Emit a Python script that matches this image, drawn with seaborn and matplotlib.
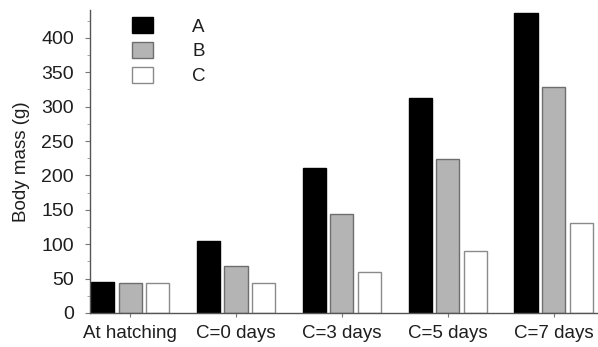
import matplotlib
matplotlib.use("Agg")
import matplotlib.pyplot as plt
from matplotlib.ticker import MultipleLocator
import seaborn as sns
import pandas as pd

# Body mass per group at each sampling point
categories = ["At hatching", "C=0 days", "C=3 days", "C=5 days", "C=7 days"]
groups = ["A", "B", "C"]
mass_a = [45, 105, 211, 312, 436]
mass_b = [44, 68, 144, 224, 329]
mass_c = [43, 43, 60, 90, 131]

df = pd.DataFrame({
    "stage": categories * 3,
    "group": ["A"] * 5 + ["B"] * 5 + ["C"] * 5,
    "mass": mass_a + mass_b + mass_c,
})

sns.set_theme(style="ticks")
plt.rcParams["font.family"] = ["Liberation Sans", "DejaVu Sans"]
txt = "#1e1e1e"

fig = plt.figure(figsize=(5.98, 3.47), dpi=100)
ax = fig.add_axes([0.1505, 0.098, 0.8495, 0.872])

fills = {"A": "#000000", "B": "#b4b4b4", "C": "#ffffff"}
edges = {"A": "#000000", "B": "#6e6e6e", "C": "#8a8a8a"}

sns.barplot(data=df, x="stage", y="mass", hue="group", order=categories,
            hue_order=groups, palette=fills, width=0.78, gap=0.16,
            saturation=1, ax=ax, legend=False)

for cont, g in zip(ax.containers, groups):
    for bar in cont:
        bar.set_edgecolor(edges[g])
        bar.set_linewidth(1.0)

ax.set_xlim(-0.38, 4.42)
ax.set_ylim(0, 440)
ax.yaxis.set_major_locator(MultipleLocator(50))
ax.yaxis.set_minor_locator(MultipleLocator(25))
ax.set_xlabel("")
ax.set_ylabel("Body mass (g)", fontsize=13.5, color=txt, labelpad=8)

for s in ["top", "right"]:
    ax.spines[s].set_visible(False)
for s in ["left", "bottom"]:
    ax.spines[s].set_color("#555555")
    ax.spines[s].set_linewidth(1.0)

ax.tick_params(axis="y", which="major", length=3.5, width=0.8, color="#777777",
               labelsize=14, labelcolor=txt, pad=8)
ax.tick_params(axis="y", which="minor", length=2, width=0.6, color="#999999")
ax.tick_params(axis="x", which="major", length=3, width=0.8, color="#777777",
               labelsize=13.5, labelcolor=txt, pad=6)

handles = [plt.Rectangle((0, 0), 1, 1, facecolor=fills[g], edgecolor=edges[g],
                         linewidth=1.0) for g in groups]
leg = fig.legend(handles, groups, loc="upper left",
                 bbox_to_anchor=(132 / 598, 1 - 17 / 347),
                 frameon=False, fontsize=13.5, handlelength=1.1,
                 handleheight=0.96, handletextpad=2.1, labelspacing=0.33,
                 borderpad=0, borderaxespad=0)
for t in leg.get_texts():
    t.set_color(txt)

fig.savefig("out.png", dpi=100)
